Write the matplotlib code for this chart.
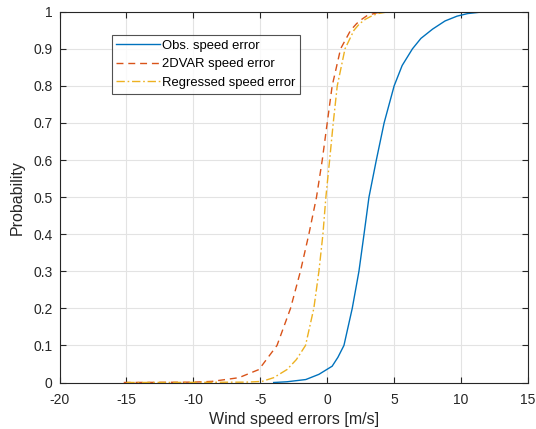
import matplotlib
matplotlib.use("Agg")
import matplotlib.pyplot as plt

plt.rcParams['font.family'] = ['Liberation Sans', 'DejaVu Sans']

obs_x = [-4.0, -3.0, -1.6, -0.62, 0.37, 0.8, 1.25, 1.87, 2.37, 2.75, 3.12, 3.67, 4.25, 5.0, 5.6, 6.37, 7.0, 7.87, 8.8, 9.7, 10.5, 11.5, 12.5, 13.4]
obs_y = [0.0, 0.002, 0.008, 0.022, 0.044, 0.068, 0.1, 0.2, 0.3, 0.4, 0.5, 0.6, 0.7, 0.8, 0.855, 0.9, 0.928, 0.953, 0.975, 0.988, 0.995, 0.999, 1.0, 1.0]

dvar_x = [-15.2, -12.0, -10.0, -8.6, -6.6, -5.1, -3.75, -2.74, -2.0, -1.37, -0.8, -0.37, 0.0, 0.37, 1.0, 1.75, 2.2, 2.6, 3.0, 3.6, 4.1, 5.1]
dvar_y = [0.0, 0.0005, 0.001, 0.003, 0.013, 0.035, 0.1, 0.2, 0.3, 0.4, 0.5, 0.6, 0.7, 0.8, 0.9, 0.95, 0.968, 0.98, 0.99, 0.996, 1.0, 1.0]

reg_x = [-15.0, -10.0, -6.0, -4.87, -4.0, -3.0, -2.3, -1.62, -1.0, -0.62, -0.32, -0.1, 0.18, 0.45, 0.75, 1.33, 2.0, 2.4, 2.87, 3.4, 3.8, 4.6, 5.4]
reg_y = [0.0, 0.0003, 0.001, 0.003, 0.013, 0.035, 0.062, 0.1, 0.2, 0.3, 0.4, 0.5, 0.6, 0.7, 0.8, 0.9, 0.95, 0.967, 0.98, 0.99, 0.995, 1.0, 1.0]

labels = ['Obs. speed error', '2DVAR speed error', 'Regressed speed error']
x_ticks = [-20, -15, -10, -5, 0, 5, 10, 15]
y_ticks = [0, 0.1, 0.2, 0.3, 0.4, 0.5, 0.6, 0.7, 0.8, 0.9, 1]
y_ticklabels = ['0', '0.1', '0.2', '0.3', '0.4', '0.5', '0.6', '0.7', '0.8', '0.9', '1']

W, H = 536, 429
L, R, T, B = 59.5, 528, 11.7, 382.5
fig = plt.figure(figsize=(W / 100, H / 100), dpi=100)
ax = fig.add_axes([L / W, 1 - B / H, (R - L) / W, (B - T) / H])

ax.plot(obs_x, obs_y, color='#0072BD', lw=1.0, label=labels[0])
ax.plot(dvar_x, dvar_y, color='#D95319', lw=1.0, dashes=(5, 3.5), label=labels[1])
ax.plot(reg_x, reg_y, color='#EDB120', lw=1.0, dashes=(6, 2, 1.2, 2), label=labels[2])

ax.set_xlim(-20, 15)
ax.set_ylim(0, 1)
ax.set_xticks(x_ticks)
ax.set_xticklabels([str(t) for t in x_ticks])
ax.set_yticks(y_ticks)
ax.set_yticklabels(y_ticklabels)
ax.grid(True, color='#e3e3e3', lw=0.8)
ax.set_axisbelow(True)
ax.tick_params(direction='in', top=True, right=True, length=4, width=0.8,
               colors='#262626', labelsize=10)
ax.tick_params(axis='x', pad=7.5)
ax.tick_params(axis='y', pad=5)
for s in ax.spines.values():
    s.set_color('#262626')
    s.set_linewidth(0.8)

ax.set_xlabel('Wind speed errors [m/s]', fontsize=11.5, color='#262626', labelpad=4)
ax.set_ylabel('Probability', fontsize=11.5, color='#262626', labelpad=6)

leg = ax.legend(loc='upper left', bbox_to_anchor=((111.5 - L) / (R - L), (B - 35) / (B - T)),
                fontsize=9.4, frameon=True, fancybox=False, edgecolor='#262626',
                handlelength=3.4, handletextpad=0.1, borderpad=0.35,
                labelspacing=0.5, borderaxespad=0)
leg.get_frame().set_linewidth(0.8)

fig.savefig('out.png', dpi=100, facecolor='white')
